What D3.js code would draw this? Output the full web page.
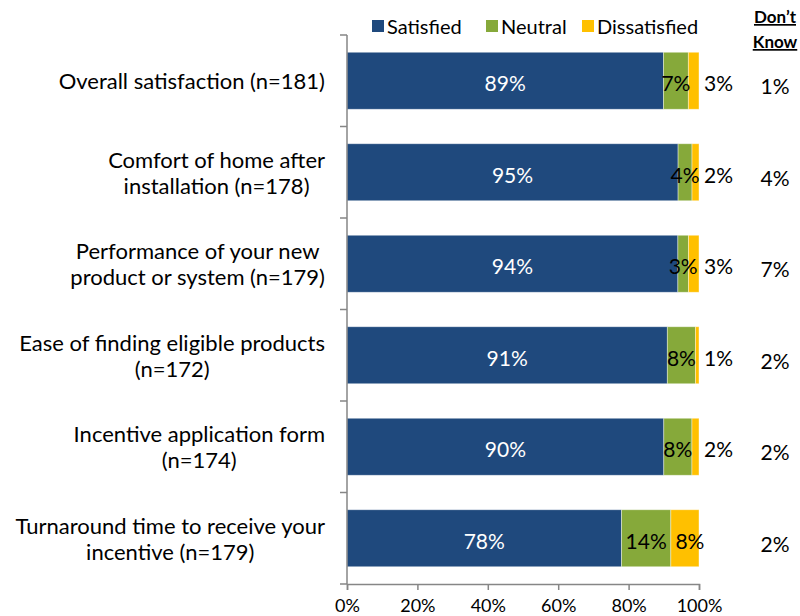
<!DOCTYPE html>
<html lang="en">
<head>
  <meta charset="UTF-8">
  <title>Satisfaction stacked bars</title>
  <style>
    body { margin: 0; background: #fff; font-family: 'Lato', sans-serif; }
    svg text { fill: #000; }
  </style>
  <script src="https://d3js.org/d3.v7.min.js"></script>
</head>
<body>
  <div id="chart"></div>
  <script>
    const categories = [
      "Overall satisfaction (n=181)",
      "Comfort of home after\ninstallation (n=178)",
      "Performance of your new\nproduct or system (n=179)",
      "Ease of finding eligible products\n(n=172)",
      "Incentive application form\n(n=174)",
      "Turnaround time to receive your\nincentive (n=179)"
    ];
    const seriesNames = ["Satisfied", "Neutral", "Dissatisfied"];
    const satisfied = [89, 95, 94, 91, 90, 78];
    const neutral = [7, 4, 3, 8, 8, 14];
    const dissatisfied = [3, 2, 3, 1, 2, 8];
    const dontKnow = [1, 4, 7, 2, 2, 2];
    const xTicks = [0, 0.2, 0.4, 0.6, 0.8, 1];
    const colors = ["#1f497d", "#86a93a", "#ffc000"];

    const width = 800, height = 616;
    const x0 = 347, x1 = 699, yTop = 35, yBottom = 584;

    const rows = categories.map((c, i) => ({
      cat: c, Satisfied: satisfied[i], Neutral: neutral[i], Dissatisfied: dissatisfied[i], dk: dontKnow[i]
    }));

    const svg = d3.select("#chart").append("svg")
      .attr("width", width).attr("height", height);

    const x = d3.scaleLinear().domain([0, 1]).range([x0, x1]);
    const y = d3.scaleBand().domain(categories).range([yTop, yBottom])
      .paddingInner(0.377).paddingOuter(0.1885);
    const color = d3.scaleOrdinal().domain(seriesNames).range(colors);

    // bars fill the full width (shares of those with an opinion)
    const stack = d3.stack().keys(seriesNames).offset(d3.stackOffsetExpand);
    const series = stack(rows);

    const layer = svg.selectAll("g.layer").data(series).join("g")
      .attr("class", "layer").attr("fill", d => color(d.key));
    layer.selectAll("rect").data(d => d).join("rect")
      .attr("x", d => x(d[0]))
      .attr("y", d => y(d.data.cat))
      .attr("width", d => x(d[1]) - x(d[0]))
      .attr("height", y.bandwidth())
      .attr("stroke", "rgba(255,255,255,0.5)")
      .attr("stroke-width", 0.8);

    // axes
    const axisColor = "#868686";
    const step = y.step();
    const bounds = categories.map(c => y(c) - (step - y.bandwidth()) / 2).concat([yBottom]);
    const yAxis = svg.append("g");
    yAxis.append("line").attr("x1", x0).attr("x2", x0).attr("y1", yTop).attr("y2", yBottom)
      .attr("stroke", axisColor).attr("stroke-width", 1.5);
    yAxis.selectAll("line.tk").data(bounds).join("line").attr("class", "tk")
      .attr("x1", x0 - 7).attr("x2", x0).attr("y1", d => d).attr("y2", d => d)
      .attr("stroke", axisColor).attr("stroke-width", 1.5);

    const xAxis = svg.append("g").attr("transform", `translate(0,${yBottom})`)
      .call(d3.axisBottom(x).tickValues(xTicks).tickFormat(d3.format(".0%")).tickSizeOuter(0).tickSize(6).tickPadding(9));
    xAxis.select(".domain").attr("stroke", axisColor).attr("stroke-width", 1.5);
    xAxis.selectAll(".tick line").attr("stroke", axisColor).attr("stroke-width", 1.5);
    xAxis.selectAll(".tick text").attr("font-family", "Lato").attr("font-size", 18).attr("fill", "#000");

    // category labels: lines centred on each other, block right-aligned
    svg.selectAll("text.cat").data(categories).join("text").attr("class", "cat")
      .attr("font-size", 22)
      .each(function(c) {
        const lines = c.split("\n");
        const t = d3.select(this);
        const cy = y(c) + y.bandwidth() / 2;
        const lh = 26;
        lines.forEach((ln, i) => {
          t.append("tspan").text(ln)
            .attr("y", cy + (i - (lines.length - 1) / 2) * lh)
            .attr("dominant-baseline", "central");
        });
        let maxW = 0;
        t.selectAll("tspan").each(function() { maxW = Math.max(maxW, this.getComputedTextLength()); });
        t.attr("text-anchor", "middle");
        t.selectAll("tspan").attr("x", 325 - maxW / 2);
      });

    // value labels
    const pct = v => v + "%";
    series.forEach(s => {
      s.forEach(p => {
        const v = p.data[s.key];
        const cy = y(p.data.cat) + y.bandwidth() / 2 + 2;
        const wSeg = x(p[1]) - x(p[0]);
        let tx = (x(p[0]) + x(p[1])) / 2, anchor = "middle";
        if (s.key === "Dissatisfied" && wSeg < 20) { tx = x(1) + 5; anchor = "start"; }
        else if (s.key === "Dissatisfied") { tx += 5; }
        svg.append("text").text(pct(v))
          .attr("x", tx).attr("y", cy)
          .attr("text-anchor", anchor).attr("dominant-baseline", "central")
          .attr("font-size", 21)
          .style("fill", s.key === "Satisfied" ? "#fff" : "#000");
      });
    });

    // don't know column
    const dkX = 775;
    const hdr = svg.append("g").attr("font-weight", "bold").attr("font-size", 17);
    ["Don\u2019t", "Know"].forEach((t, i) => {
      hdr.append("text").text(t).attr("x", dkX).attr("y", 23 + i * 25)
        .attr("text-anchor", "middle").attr("text-decoration", "underline");
    });
    svg.selectAll("text.dk").data(rows).join("text").attr("class", "dk")
      .attr("x", dkX).attr("y", d => y(d.cat) + y.bandwidth() / 2 + 5)
      .attr("text-anchor", "middle").attr("dominant-baseline", "central")
      .attr("font-size", 21).text(d => pct(d.dk));

    // legend
    const legX = [372, 486, 582];
    const leg = svg.selectAll("g.leg").data(seriesNames).join("g").attr("class", "leg")
      .attr("transform", (d, i) => `translate(${legX[i]},20)`);
    leg.append("rect").attr("width", 12).attr("height", 12).attr("fill", d => color(d));
    leg.append("text").text(d => d).attr("x", 15).attr("y", 6)
      .attr("dominant-baseline", "central").attr("font-size", 20);
  </script>
</body>
</html>
